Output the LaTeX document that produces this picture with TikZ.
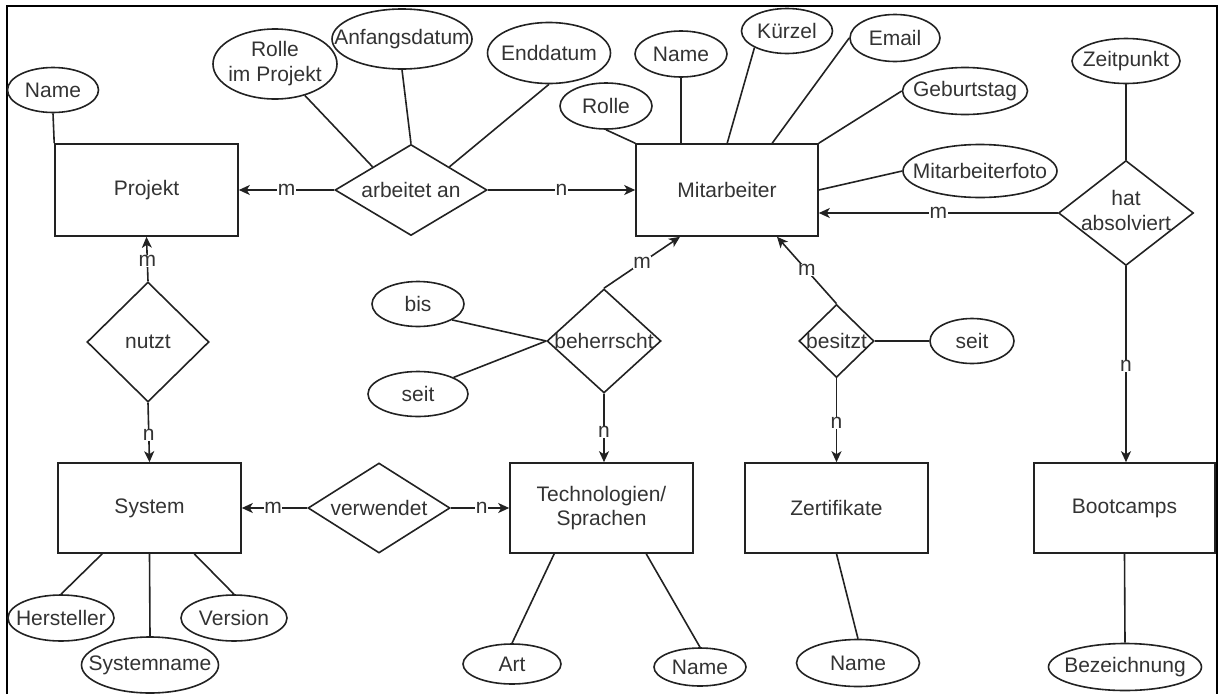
\documentclass[tikz,border=0pt]{standalone}
\usepackage{fontspec}
\setmainfont{Liberation Sans}
\usetikzlibrary{shapes.geometric,arrows.meta}
\definecolor{ink}{HTML}{222222}
\definecolor{txtc}{HTML}{333333}
\newcommand{\zw}[1]{\makebox[0pt][c]{#1}}
\newcommand{\zwtwo}[2]{\makebox[0pt][c]{\begin{tabular}{@{}c@{}}#1\\#2\end{tabular}}}
\begin{document}
\begin{tikzpicture}[x=1pt,y=-1pt,
  every node/.style={font=\fontsize{21}{24.5}\selectfont, text=txtc},
  ent/.style={draw=ink, line width=1.6pt, rectangle, inner sep=0pt, align=center},
  attr/.style={draw=ink, line width=1.6pt, ellipse, inner sep=0pt},
  rel/.style={draw=ink, line width=1.6pt, diamond, inner sep=0pt},
  card/.style={fill=white, inner sep=0.5pt, font=\fontsize{21}{22}\selectfont},
  con/.style={draw=ink, line width=1.6pt},
  arr/.style={con, -{Stealth[length=11pt,width=10pt,inset=3pt]}}]
\useasboundingbox (0,0) rectangle (1219,694);
\draw[draw=black, line width=2.2pt] (7,694) -- (7,6) -- (1217,6) -- (1217,694);

% entities
\node[ent, minimum width=183pt, minimum height=92pt] (proj) at (146.5,190) {Projekt};
\node[ent, minimum width=182pt, minimum height=92pt] (mit) at (727,190) {Mitarbeiter};
\node[ent, minimum width=183pt, minimum height=90pt] (sys) at (149.5,508) {System};
\node[ent, minimum width=183pt, minimum height=90pt] (tech) at (601.5,508) {Technologien/\\Sprachen};
\node[ent, minimum width=183pt, minimum height=90pt] (zert) at (836.5,508) {Zertifikate};
\node[ent, minimum width=181pt, minimum height=90pt] (boot) at (1124.5,508) {Bootcamps};

% relationships
\node[rel, minimum width=152pt, minimum height=91pt] (arb) at (411,190) {\zw{arbeitet an}};
\node[rel, minimum width=135pt, minimum height=105pt] (hat) at (1126,213) {\zwtwo{hat}{absolviert}};
\node[rel, minimum width=114pt, minimum height=104pt] (beh) at (604,341) {\zw{beherrscht}};
\node[rel, minimum width=75pt, minimum height=73pt] (bes) at (836.5,341) {\zw{besitzt}};
\node[rel, minimum width=142pt, minimum height=90pt] (verw) at (379,508) {\zw{verwendet}};
\node[rel, minimum width=122pt, minimum height=120pt] (nutzt) at (148,342) {\zw{nutzt}};

% attributes
\node[attr, minimum width=91pt, minimum height=45pt] (nameP) at (53,90) {\zw{Name}};
\node[attr, minimum width=124pt, minimum height=70pt] (rolleP) at (275,64) {\zwtwo{Rolle}{im Projekt}};
\node[attr, minimum width=140pt, minimum height=60pt] (anf) at (402,39) {\zw{Anfangsdatum}};
\node[attr, minimum width=123pt, minimum height=61pt] (endd) at (549,53) {\zw{Enddatum}};
\node[attr, minimum width=92pt, minimum height=46pt] (nameM) at (681,54) {\zw{Name}};
\node[attr, minimum width=92pt, minimum height=46pt] (rolleM) at (606,106) {\zw{Rolle}};
\node[attr, minimum width=91pt, minimum height=45pt] (kuerz) at (787,31) {\zw{Kürzel}};
\node[attr, minimum width=90pt, minimum height=47pt] (email) at (895,38) {\zw{Email}};
\node[attr, minimum width=125pt, minimum height=47pt] (geb) at (965,91) {\zw{Geburtstag}};
\node[attr, minimum width=154pt, minimum height=53pt] (foto) at (980,171) {\zw{Mitarbeiterfoto}};
\node[attr, minimum width=108pt, minimum height=45pt] (zeit) at (1126,61) {\zw{Zeitpunkt}};
\node[attr, minimum width=92pt, minimum height=45pt] (bis) at (418,304) {\zw{bis}};
\node[attr, minimum width=100pt, minimum height=45pt] (seitT) at (418,394) {\zw{seit}};
\node[attr, minimum width=84pt, minimum height=45pt] (seitB) at (972,341) {\zw{seit}};
\node[attr, minimum width=98pt, minimum height=40pt] (art) at (512,664) {\zw{Art}};
\node[attr, minimum width=92pt, minimum height=38pt] (nameT) at (700,667) {\zw{Name}};
\node[attr, minimum width=123pt, minimum height=47pt] (nameZ) at (858,663) {\zw{Name}};
\node[attr, minimum width=153pt, minimum height=47pt] (bez) at (1125,667) {\zw{Bezeichnung}};
\node[attr, minimum width=106pt, minimum height=46pt] (herst) at (61,618) {\zw{Hersteller}};
\node[attr, minimum width=137pt, minimum height=56pt] (sysname) at (150,665) {\zw{Systemname}};
\node[attr, minimum width=106pt, minimum height=46pt] (version) at (234,618) {\zw{Version}};

% attribute lines
\draw[con] (nameP.south) -- (proj.north west);
\draw[con] (rolleP) -- (arb.north west);
\draw[con] (anf.south) -- (arb.north);
\draw[con] (endd.south) -- (arb.north east);
\draw[con] (rolleM.south) -- (mit.north west);
\draw[con] (nameM.south) -- (nameM.south |- mit.north);
\draw[con] (kuerz.207) -- ([xshift=92pt]mit.north west);
\draw[con] (email.west) -- ([xshift=137pt]mit.north west);
\draw[con] (geb.west) -- (mit.north east);
\draw[con] (foto.west) -- (mit.east);
\draw[con] (zeit.south) -- (hat.north);
\draw[con] (bis.-25) -- (beh.west);
\draw[con] (seitT.25) -- (beh.west);
\draw[con] (bes.east) -- (seitB.west);
\draw[con] ([xshift=45pt]tech.south west) -- (art.north);
\draw[con] ([xshift=137pt]tech.south west) -- (nameT.north);
\draw[con] (zert.south) -- (nameZ.north);
\draw[con] (boot.south) -- (bez.north);
\draw[con] ([xshift=45pt]sys.south west) -- (herst.north);
\draw[con] (sys.south) -- (sysname.north);
\draw[con] ([xshift=137pt]sys.south west) -- (version.north);

% relationship connectors
\draw[arr] (arb.west) -- node[card] {m} (proj.east);
\draw[arr] (arb.east) -- node[card] {n} (mit.west);
\draw[arr] (hat.west) -- node[card] {m} (hat.west -| mit.east);
\draw[arr] (hat.south) -- node[card, pos=0.51] {n} (hat.south |- boot.north);
\draw[arr] (bes.north) -- node[card] {m} ([xshift=50pt]mit.south);
\draw[arr] (bes.south) -- node[card, pos=0.53] {n} (zert.north);
\draw[arr] (beh.north) -- node[card] {m} ([xshift=-47pt]mit.south);
\draw[arr] (beh.south) -- node[card, pos=0.56] {n} (beh.south |- tech.north);
\draw[arr] (verw.east) -- node[card, pos=0.53] {n} (tech.west);
\draw[arr] (verw.west) -- node[card, pos=0.52] {m} (sys.east);
\draw[arr] (nutzt.north) -- node[card, pos=0.46] {m} (proj.south);
\draw[arr] (nutzt.south) -- node[card, pos=0.54] {n} (sys.north);
\end{tikzpicture}
\end{document}
